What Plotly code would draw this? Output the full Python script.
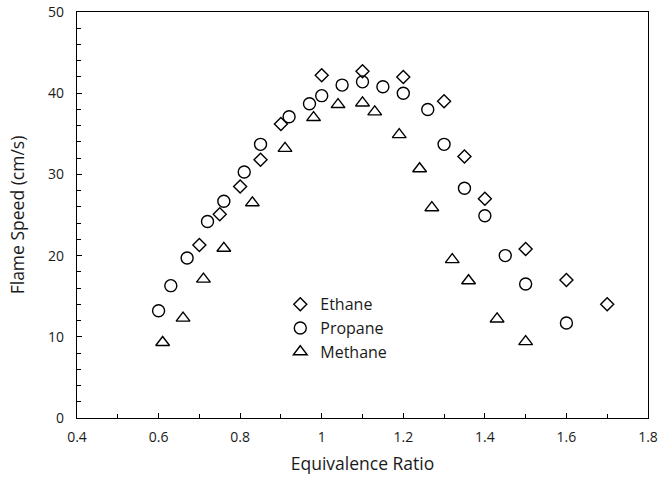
import plotly.graph_objects as go

# Laminar flame speed vs. equivalence ratio for three fuels
ethane_phi = [0.70, 0.75, 0.80, 0.85, 0.90, 1.00, 1.10, 1.20, 1.30, 1.35, 1.40, 1.50, 1.60, 1.70]
ethane_speed = [21.3, 25.1, 28.5, 31.8, 36.2, 42.2, 42.7, 42.0, 39.0, 32.2, 27.0, 20.8, 17.0, 14.0]

propane_phi = [0.60, 0.63, 0.67, 0.72, 0.76, 0.81, 0.85, 0.92, 0.97, 1.00, 1.05, 1.10,
               1.15, 1.20, 1.26, 1.30, 1.35, 1.40, 1.45, 1.50, 1.60]
propane_speed = [13.2, 16.3, 19.7, 24.2, 26.7, 30.3, 33.7, 37.1, 38.7, 39.7, 41.0, 41.4,
                 40.8, 40.0, 38.0, 33.7, 28.3, 24.9, 20.0, 16.5, 11.7]

methane_phi = [0.61, 0.66, 0.71, 0.76, 0.83, 0.91, 0.98, 1.04, 1.10, 1.13, 1.19, 1.24,
               1.27, 1.32, 1.36, 1.43, 1.50]
methane_speed = [9.3, 12.3, 17.1, 20.9, 26.5, 33.2, 37.0, 38.6, 38.8, 37.7, 34.9, 30.7,
                 25.9, 19.5, 16.9, 12.2, 9.4]

FONT = "Open Sans, Liberation Sans, sans-serif"
TEXT = "#1a1a1a"

fig = go.Figure()
series = [
    ("Ethane", ethane_phi, ethane_speed, "diamond-open", 10),
    ("Propane", propane_phi, propane_speed, "circle-open", 12),
    ("Methane", methane_phi, methane_speed, "triangle-up-open", 12),
]
for name, xs, ys, sym, size in series:
    fig.add_trace(go.Scatter(
        x=xs, y=ys, mode="markers", name=name,
        marker=dict(symbol=sym, size=size, color="black",
                    line=dict(color="black", width=1.4)),
    ))

axis_common = dict(
    showgrid=False, zeroline=False, showline=True, linecolor="black", linewidth=1.3,
    mirror=True, ticks="inside", ticklen=5, tickwidth=1.3, tickcolor="black",
    tickfont=dict(family=FONT, size=14, color=TEXT),
)
fig.update_xaxes(
    range=[0.4, 1.8], dtick=0.2, tick0=0.4, automargin=False, ticklabelstandoff=6,
    minor=dict(dtick=0.1, ticks="inside", ticklen=4, tickcolor="black", tickwidth=1),
    title=dict(text="Equivalence Ratio", font=dict(family=FONT, size=17.5, color=TEXT),
               standoff=12),
    **axis_common,
)
fig.update_yaxes(
    range=[0, 50], dtick=10, automargin=False, ticklabelstandoff=9,
    minor=dict(dtick=2, ticks="inside", ticklen=4, tickcolor="black", tickwidth=1),
    title=dict(text="Flame Speed (cm/s)", font=dict(family=FONT, size=17.5, color=TEXT),
               standoff=18),
    **axis_common,
)
fig.update_layout(
    width=658, height=480,
    margin=dict(l=77, r=10, t=12, b=62),
    paper_bgcolor="white", plot_bgcolor="white",
    showlegend=True,
    legend=dict(x=0.356, y=0.322, xanchor="left", yanchor="top",
                font=dict(family=FONT, size=16, color=TEXT),
                bgcolor="rgba(0,0,0,0)", itemwidth=30, tracegroupgap=0),
)
fig.write_html("out.html")
